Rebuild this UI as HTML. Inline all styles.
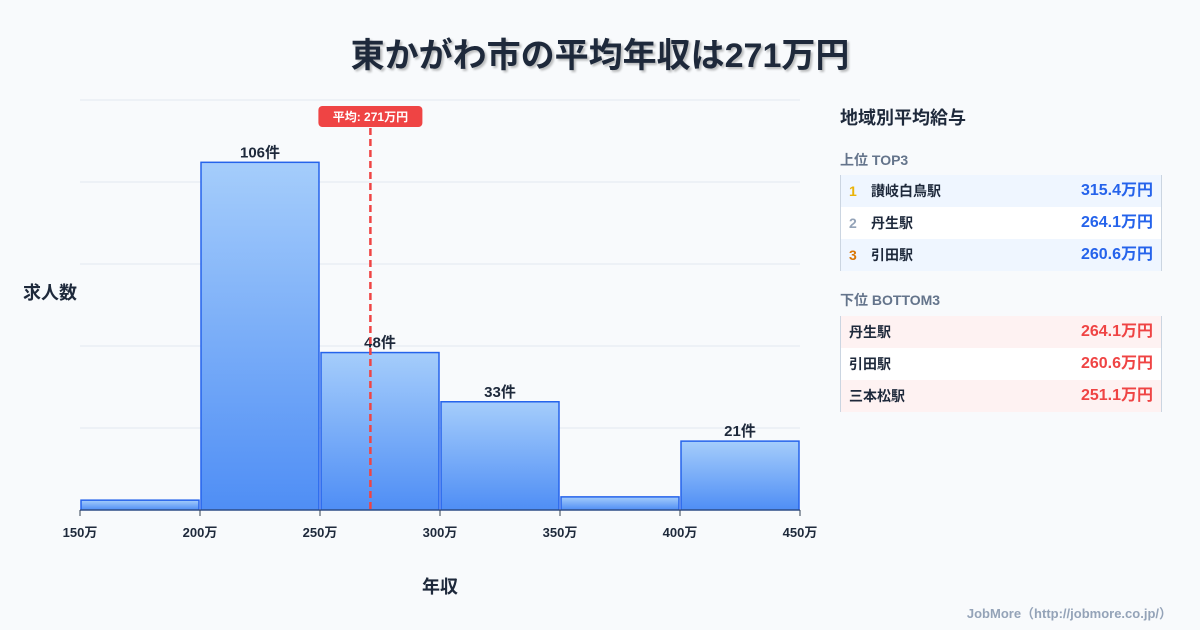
<!DOCTYPE html>
<html><head><meta charset="utf-8">
<style>
body{margin:0;width:1200px;height:630px;background:#f8fafc;font-family:"Liberation Sans","Noto Sans CJK JP",sans-serif;position:relative;overflow:hidden;color:#1e293b}
.abs{position:absolute}
.title{left:0;width:1200px;top:28px;text-align:center;font-size:34px;font-weight:bold;color:#1e293b;text-shadow:2px 2px 2px rgba(0,0,0,.25)}
.row{position:absolute;left:840px;width:320px;height:32px;line-height:32px;border-left:1px solid #cbd5e1;border-right:1px solid #cbd5e1;font-size:14px;font-weight:bold}
.row span{position:absolute;top:0}
.row .v{right:8px;font-size:16px}
</style></head><body>
<div class="abs title">東かがわ市の平均年収は271万円</div>
<svg class="abs" style="left:0;top:0" width="820" height="630">
<g id="grid"></g><g id="bars"></g><g id="labels"></g><g id="xt"></g>
<text x="50" y="299" text-anchor="middle" font-size="18" font-weight="bold" fill="#1e293b">求人数</text>
<text x="440" y="593" text-anchor="middle" font-size="18" font-weight="bold" fill="#1e293b">年収</text>
<g id="mean"></g>
<defs><linearGradient id="g" x1="0" y1="0" x2="0" y2="1"><stop offset="0" stop-color="#a5cdfb"/><stop offset="1" stop-color="#4f8ef5"/></linearGradient></defs>
</svg>
<div class="abs" style="left:840px;top:104px;font-size:18px;font-weight:bold">地域別平均給与</div>
<div class="abs" style="left:840px;top:150px;font-size:14px;font-weight:bold;color:#64748b">上位 TOP3</div>
<div class="row" style="top:175px;background:#eff6ff"><span style="left:8px;color:#eab308">1</span><span style="left:30px">讃岐白鳥駅</span><span class="v" style="color:#2563eb">315.4万円</span></div>
<div class="row" style="top:207px;background:#fff"><span style="left:8px;color:#94a3b8">2</span><span style="left:30px">丹生駅</span><span class="v" style="color:#2563eb">264.1万円</span></div>
<div class="row" style="top:239px;background:#eff6ff"><span style="left:8px;color:#d97706">3</span><span style="left:30px">引田駅</span><span class="v" style="color:#2563eb">260.6万円</span></div>
<div class="abs" style="left:840px;top:290px;font-size:14px;font-weight:bold;color:#64748b">下位 BOTTOM3</div>
<div class="row" style="top:316px;background:#fef2f2"><span style="left:8px">丹生駅</span><span class="v" style="color:#ef4444">264.1万円</span></div>
<div class="row" style="top:348px;background:#fff"><span style="left:8px">引田駅</span><span class="v" style="color:#ef4444">260.6万円</span></div>
<div class="row" style="top:380px;background:#fef2f2"><span style="left:8px">三本松駅</span><span class="v" style="color:#ef4444">251.1万円</span></div>
<div class="abs" style="right:28px;top:603px;font-size:13px;font-weight:bold;color:#94a3b8">JobMore（http://jobmore.co.jp/）</div>
<script>
const binStarts=[150,200,250,300,350,400];
const counts=[3,106,48,33,4,21];
const xTicks=[150,200,250,300,350,400,450];
const yGrid=[0,25,50,75,100,125];
const meanValue=271;
const NS="http://www.w3.org/2000/svg";
const X=v=>80+(v-150)*720/300, Y=v=>510-v*410/125;
function mk(p,t,a){const e=document.createElementNS(NS,t);for(const k in a)e.setAttribute(k,a[k]);document.getElementById(p).appendChild(e);return e;}
yGrid.forEach(v=>{const l=mk('grid','line',{x1:80,x2:800,y1:Y(v),y2:Y(v),stroke:'#e2e8f0'});

});
counts.forEach((c,i)=>{const x0=X(binStarts[i]),x1=X(binStarts[i]+50);
const r=mk('bars','rect',{x:x0+1,y:Y(c),width:x1-x0-2,height:Y(0)-Y(c),fill:'url(#g)',stroke:'#2563eb','stroke-width':1.5});


if(c>=10){const t=mk('labels','text',{x:(x0+x1)/2,y:Y(c)-5,'text-anchor':'middle','font-size':15,'font-weight':'bold',fill:'#1e293b'});t.textContent=c+'件';

}});
mk('xt','line',{x1:80,x2:800,y1:510,y2:510,stroke:'#334155'});
xTicks.forEach(v=>{mk('xt','line',{x1:X(v),x2:X(v),y1:510,y2:516,stroke:'#334155'});
const t=mk('xt','text',{x:X(v),y:537,'text-anchor':'middle','font-size':13,'font-weight':'bold',fill:'#1e293b'});t.textContent=v+'万';

});
const mx=X(meanValue);
const ml=mk('mean','line',{x1:mx,x2:mx,y1:128,y2:510,stroke:'#ef4444','stroke-width':2.5,'stroke-dasharray':'7,4'});


mk('mean','rect',{x:mx-52,y:106,width:104,height:21,rx:4,fill:'#ef4444'});
const mt=mk('mean','text',{x:mx,y:121,'text-anchor':'middle','font-size':12,'font-weight':'bold',fill:'#fff'});mt.textContent='平均: '+meanValue+'万円';


</script>
</body></html>
